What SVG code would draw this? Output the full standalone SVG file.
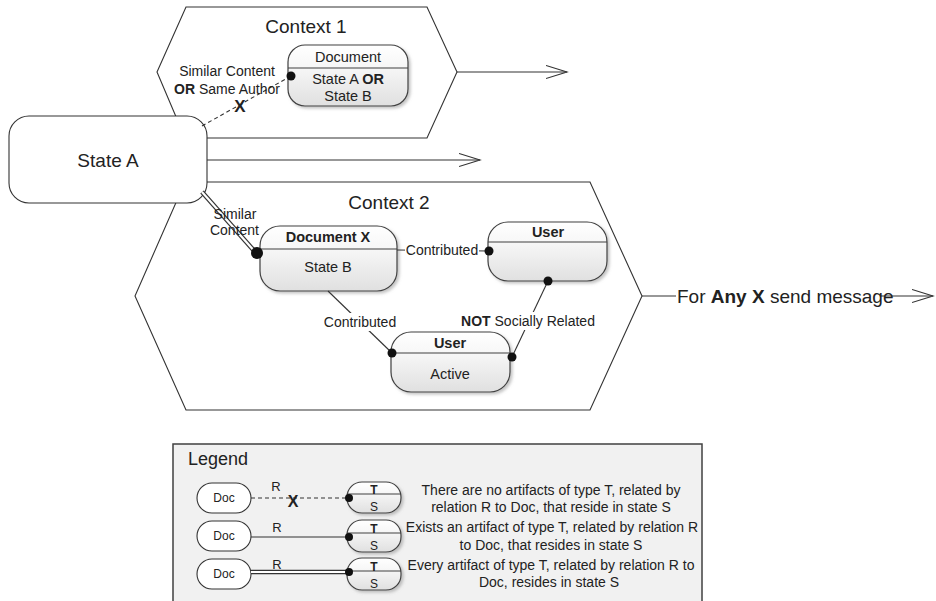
<svg xmlns="http://www.w3.org/2000/svg" width="936" height="601" viewBox="0 0 936 601">
<defs>
<style>
text{font-family:"Liberation Sans",Arial,sans-serif;fill:#222}
.hex{fill:#fff;stroke:#333;stroke-width:1.1}
.node{fill:url(#ng);stroke:#404040;stroke-width:1.2;filter:url(#sh)}
.div{stroke:#404040;stroke-width:1.1}
.ln{stroke:#333;stroke-width:1.1;fill:none}
.dash{stroke:#333;stroke-width:1.1;stroke-dasharray:4 3;fill:none}
.dbl1{stroke:#333;stroke-width:4.6;fill:none}
.dbl2{stroke:#fff;stroke-width:2.2;fill:none}
.dot{fill:#111}
.arr{marker-end:url(#ah)}
.t14{font-size:14px;text-anchor:middle}
.nt{font-size:14.5px;text-anchor:middle}
.big{font-size:19px;text-anchor:middle}
.b{font-weight:bold}
.lbg{fill:#fff}
.pill{fill:#fff;stroke:#333;stroke-width:1.1}
.s12{font-size:12px;text-anchor:middle}
</style>
<linearGradient id="ng" x1="0" y1="0" x2="0" y2="1"><stop offset="0" stop-color="#ffffff"/><stop offset="0.35" stop-color="#f7f7f7"/><stop offset="1" stop-color="#e0e0e0"/></linearGradient>
<filter id="sh" x="-10%" y="-10%" width="130%" height="140%"><feDropShadow dx="2" dy="2" stdDeviation="1.5" flood-color="#888" flood-opacity="0.5"/></filter>
<marker id="ah" markerUnits="userSpaceOnUse" markerWidth="24" markerHeight="16" refX="21" refY="7" orient="auto"><path d="M0,0.5 L21,7 L0,13.5" fill="none" stroke="#333" stroke-width="1.1"/></marker>
</defs>

<g id="context2">
<polygon class="hex" points="185,182 590,182 642,296 590,410 186,410 135,296"/>
<text class="big" x="389" y="209">Context 2</text>
</g>

<g id="context1">
<polygon class="hex" points="186,7 427,7 457,72 427,138 185,138 157,72"/>
<text class="big" x="306" y="33">Context 1</text>
</g>

<g id="stateA">
<rect x="9" y="116" width="198" height="87" rx="20" fill="#fff" stroke="#333" stroke-width="1.1"/>
<text class="big" x="108" y="167">State A</text>
</g>

<g id="document">
<rect class="node" x="288" y="45" width="120" height="61" rx="17"/>
<line class="div" x1="288" y1="68" x2="408" y2="68"/>
<text class="nt" x="348" y="62">Document</text>
<text class="nt" x="348" y="84">State A <tspan class="b">OR</tspan></text>
<text class="nt" x="348" y="101">State B</text>
</g>

<g id="documentX">
<rect class="node" x="260" y="226" width="137" height="65" rx="20"/>
<line class="div" x1="260" y1="249" x2="397" y2="249"/>
<text class="nt b" x="328" y="242">Document X</text>
<text class="nt" x="328" y="272">State B</text>
</g>

<g id="userTop">
<rect class="node" x="488" y="222" width="119" height="59" rx="20"/>
<line class="div" x1="488" y1="242" x2="607" y2="242"/>
<text class="nt b" x="548" y="237">User</text>
</g>

<g id="userActive">
<rect class="node" x="391" y="332" width="119" height="60" rx="20"/>
<line class="div" x1="391" y1="353" x2="510" y2="353"/>
<text class="nt b" x="450" y="348">User</text>
<text class="nt" x="450" y="379">Active</text>
</g>

<g id="connectors">
<line class="ln arr" x1="457" y1="72" x2="567" y2="72"/>
<line class="ln arr" x1="207" y1="160" x2="480" y2="160"/>
<line class="ln" x1="642" y1="296" x2="676" y2="296"/>
<line class="ln arr" x1="880" y1="296" x2="933" y2="296"/>
<text x="677" y="302.5" font-size="19px">For <tspan class="b">Any X</tspan> send message</text>

<line class="dash" x1="202" y1="126" x2="291" y2="76"/>
<text class="t14" x="227" y="76">Similar Content</text>
<text class="t14" x="227" y="94"><tspan class="b">OR</tspan> Same Author</text>
<text class="b" x="240" y="112" font-size="17px" text-anchor="middle">X</text>
<circle class="dot" cx="291" cy="76" r="4.5"/>

<line class="dbl1" x1="202" y1="192" x2="256" y2="253"/>
<line class="dbl2" x1="202" y1="192" x2="256" y2="253"/>
<text class="t14" x="235" y="219">Similar</text>
<text class="t14" x="234.5" y="235">Content</text>
<circle class="dot" cx="257" cy="253" r="6"/>

<line class="ln" x1="397" y1="250" x2="489" y2="251"/>
<rect class="lbg" x="405" y="242" width="74" height="17"/>
<text class="t14" x="442" y="255">Contributed</text>
<circle class="dot" cx="489" cy="251" r="4.5"/>

<line class="ln" x1="328" y1="291" x2="392" y2="353"/>
<rect class="lbg" x="323" y="313" width="74" height="18"/>
<text class="t14" x="360" y="327">Contributed</text>
<circle class="dot" cx="392" cy="353" r="4.5"/>

<line class="ln" x1="548" y1="281" x2="512" y2="357"/>
<rect class="lbg" x="459" y="312" width="138" height="18"/>
<text class="t14" x="528" y="326"><tspan class="b">NOT</tspan> Socially Related</text>
<circle class="dot" cx="548" cy="281" r="4.5"/>
<circle class="dot" cx="512" cy="357" r="4.5"/>
</g>

<g id="legend">
<rect x="173" y="444" width="529" height="160" fill="#f1f1f1" stroke="#404040" stroke-width="1.5"/>
<text x="188" y="465" font-size="18px">Legend</text>

<rect class="pill" x="197" y="483" width="54" height="30" rx="15"/>
<text class="s12" x="224" y="502">Doc</text>
<line class="dash" x1="251" y1="498" x2="349" y2="498"/>
<text x="276" y="491" font-size="13px" text-anchor="middle">R</text>
<text class="b" x="293" y="507" font-size="16px" text-anchor="middle">X</text>
<rect class="node" x="347" y="482" width="54" height="31" rx="15"/>
<line class="div" x1="347" y1="494" x2="401" y2="494"/>
<text class="s12 b" x="374" y="494">T</text>
<text class="s12" x="374" y="511">S</text>
<circle class="dot" cx="349" cy="498" r="4"/>

<rect class="pill" x="197" y="521" width="54" height="30" rx="15"/>
<text class="s12" x="224" y="540">Doc</text>
<line class="ln" x1="251" y1="537" x2="349" y2="537"/>
<text x="277" y="532" font-size="13px" text-anchor="middle">R</text>
<rect class="node" x="347" y="520" width="54" height="32" rx="15"/>
<line class="div" x1="347" y1="533" x2="401" y2="533"/>
<text class="s12 b" x="374" y="533">T</text>
<text class="s12" x="374" y="550">S</text>
<circle class="dot" cx="349" cy="537" r="4"/>

<rect class="pill" x="197" y="559" width="54" height="30" rx="15"/>
<text class="s12" x="224" y="578">Doc</text>
<line class="dbl1" x1="251" y1="572" x2="349" y2="572"/>
<line class="dbl2" x1="251" y1="572" x2="349" y2="572"/>
<text x="277" y="569" font-size="13px" text-anchor="middle">R</text>
<rect class="node" x="347" y="558" width="54" height="32" rx="15"/>
<line class="div" x1="347" y1="571" x2="401" y2="571"/>
<text class="s12 b" x="374" y="571">T</text>
<text class="s12" x="374" y="588">S</text>
<circle class="dot" cx="349" cy="572" r="4"/>

<text class="t14" x="551" y="495">There are no artifacts of type T, related by</text>
<text class="t14" x="551" y="512">relation R to Doc, that reside in state S</text>
<text class="t14" x="552" y="532">Exists an artifact of type T, related by relation R</text>
<text class="t14" x="551" y="550">to Doc, that resides in state S</text>
<text class="t14" x="551" y="570">Every artifact of type T, related by relation R to</text>
<text class="t14" x="549" y="587">Doc, resides in state S</text>
</g>
</svg>
